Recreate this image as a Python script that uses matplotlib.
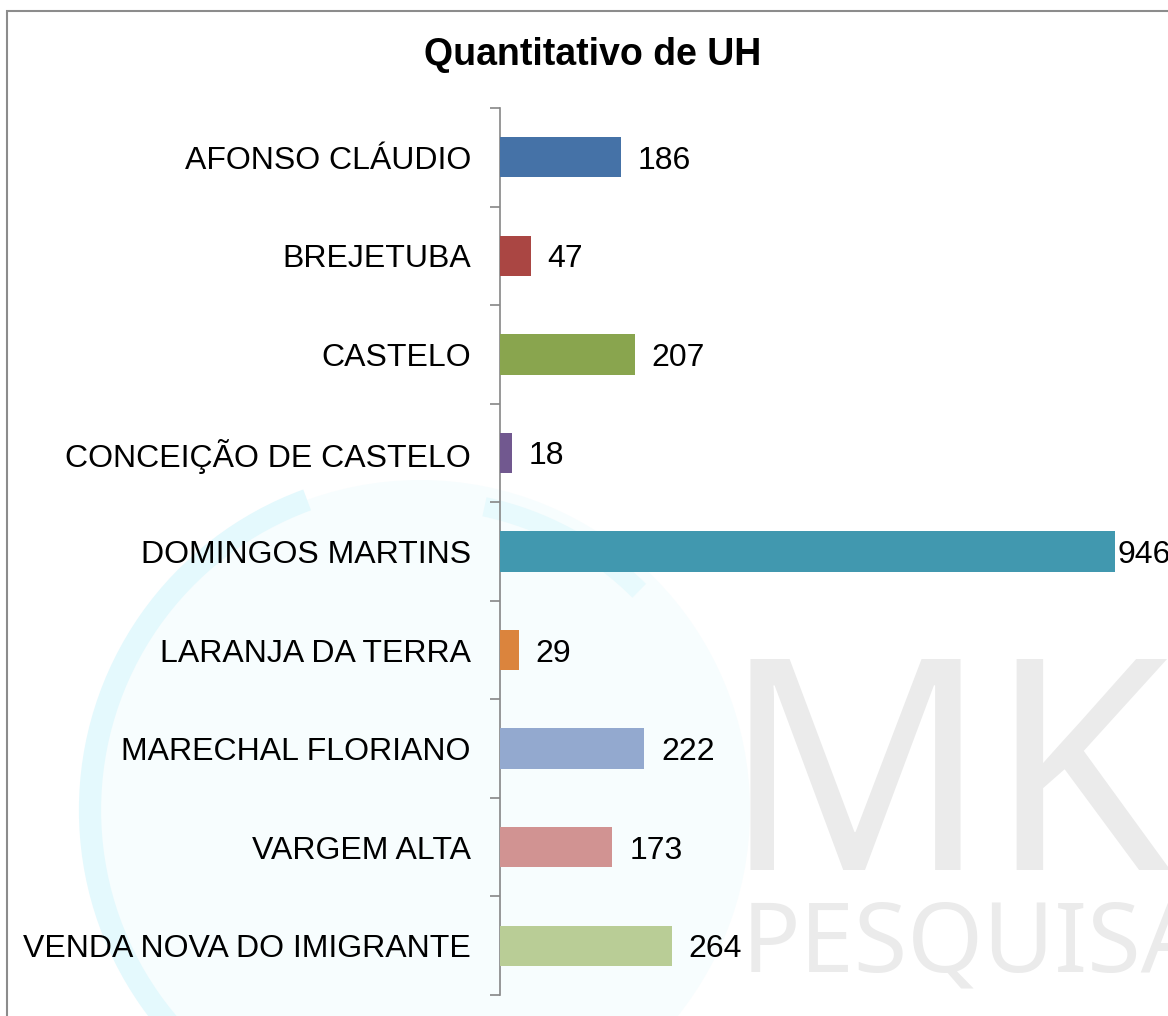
import numpy as np
import matplotlib
matplotlib.use("Agg")
import matplotlib.pyplot as plt
from matplotlib.patches import Rectangle, Circle, Arc

plt.rcParams['font.family'] = ['Liberation Sans', 'DejaVu Sans']

municipios = ['AFONSO CLÁUDIO', 'BREJETUBA', 'CASTELO', 'CONCEIÇÃO DE CASTELO',
              'DOMINGOS MARTINS', 'LARANJA DA TERRA', 'MARECHAL FLORIANO',
              'VARGEM ALTA', 'VENDA NOVA DO IMIGRANTE']
uh = [186, 47, 207, 18, 946, 29, 222, 173, 264]
cores = ['#4572A7', '#AA4643', '#89A54E', '#71588F', '#4198AF',
         '#DB843D', '#93A9CF', '#D19392', '#B9CD96']

W, H = 1168, 1016
fig = plt.figure(figsize=(W / 100, H / 100), dpi=100)

# watermark: faint globe + "MK PESQUISA"
fig.patches.append(Circle((420, H - 810), 330, transform=None, facecolor='#F7FDFE',
                          edgecolor='none', zorder=0))
fig.patches.append(Arc((420, H - 810), 660, 660, theta1=110, theta2=250, transform=None,
                       edgecolor='#E4F9FD', linewidth=16, zorder=0))
fig.patches.append(Arc((420, H - 810), 620, 620, theta1=45, theta2=78, transform=None,
                       edgecolor='#E8FAFD', linewidth=14, zorder=0))
fig.text(722 / W, 1 - 870 / H, 'MK', fontsize=212, color='#EBEBEB',
         family='Noto Sans', va='baseline', ha='left', zorder=0)
fig.text(742 / W, 1 - 972 / H, 'PESQUISA', fontsize=70, color='#EBEBEB',
         family='Noto Sans', va='baseline', ha='left', zorder=0)

# chart border
fig.patches.append(Rectangle((7 / W, -0.1), 1.2, 1 - 11 / H + 0.1,
                             transform=fig.transFigure, fill=False,
                             edgecolor='#8C8C8C', linewidth=1.5, zorder=1))

ax = fig.add_axes([500 / W, 21 / H, 668 / W, (995 - 108) / H])
ax.set_zorder(2)
ax.patch.set_alpha(0)

y = np.arange(len(municipios))
ax.barh(y, uh, height=0.41, color=cores, zorder=3)
ax.set_xlim(0, 668 / 0.65)
ax.set_ylim(len(municipios) - 0.5, -0.5)

for yi, v in zip(y, uh):
    off = 3 if v == max(uh) else 17
    ax.annotate(str(v), (v, yi), xytext=(off * 0.72, 0), textcoords='offset points',
                va='center_baseline', ha='left', fontsize=23, annotation_clip=False)

ax.set_yticks(np.arange(len(municipios) + 1) - 0.5)
ax.set_yticklabels([])
ax.set_yticks(y, minor=True)
ax.set_yticklabels(municipios, minor=True, fontsize=23, va='center_baseline')
ax.tick_params(axis='y', which='major', length=7, width=1.2, color='#868686', direction='out')
ax.tick_params(axis='y', which='minor', length=0, pad=21)
ax.set_xticks([])
for s in ['top', 'right', 'bottom']:
    ax.spines[s].set_visible(False)
ax.spines['left'].set_color('#868686')
ax.spines['left'].set_linewidth(1.2)

fig.text(593 / W, 1 - 55 / H, 'Quantitativo de UH', fontsize=27, fontweight='bold',
         ha='center', va='center')

fig.savefig('out.png', dpi=100)
